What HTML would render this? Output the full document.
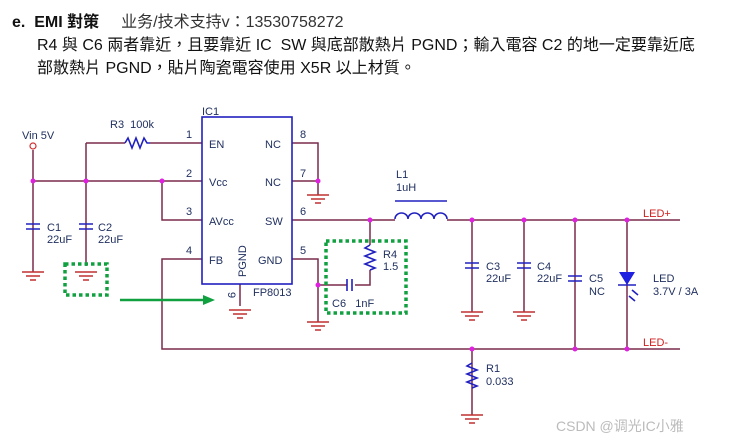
<!DOCTYPE html><html><head><style>
body{margin:0;background:#fff;width:740px;height:445px;overflow:hidden;font-family:"Liberation Sans","Noto Sans CJK TC",sans-serif}
.t{position:absolute;font-size:16px;color:#111;white-space:nowrap}
</style></head><body>
<div class="t" style="left:12px;top:8px"><b>e.&nbsp; EMI 對策</b><span style="margin-left:22px;color:#333">业务/技术支持v：13530758272</span></div>
<div class="t" style="left:37px;top:31px">R4 與 C6 兩者靠近，且要靠近 IC&nbsp; SW 與底部散熱片 PGND；輸入電容 C2 的地一定要靠近底</div>
<div class="t" style="left:37px;top:54px">部散熱片 PGND，貼片陶瓷電容使用 X5R 以上材質。</div>
<svg width="740" height="445" style="position:absolute;left:0;top:0" font-family="Liberation Sans,sans-serif" font-size="11">
<defs><g id="gnd"><path d="M-11 0H11M-7 4H7M-3 8H3" stroke="#c03030" stroke-width="1.5"/></g></defs>
<g stroke="#7a2a4a" stroke-width="1.5" fill="none">
<path d="M33 150V272M33 181H202M86 143H125M150 143H202M86 143V266M162 181V220H202M202 259H162V349H680"/>
<path d="M292 143H318V195M292 181H318M292 220H395M447 220H680M292 259H318V322M318 285H347M355 285H370V270M370 220V245"/>
<path d="M240 284V306M472 220V312M524 220V312M575 220V349M627 220V349M472 349V415"/>
</g>
<g stroke="#2020c0" stroke-width="1.6" fill="none">
<rect x="202" y="117" width="90" height="167"/>
<path d="M125 143l3-5 4 10 4-10 4 10 4-10 3 5 3 0"/>
<path d="M26 224H40M26 229H40M79 224H93M79 229H93M465 263H479M465 268H479M517 263H531M517 268H531M568 276H582M568 281H582"/>
<path d="M347 279V291M352 279V291"/>
<path d="M370 245l-5 3 10 4-10 4 10 4-10 4 10 4-5 2"/>
<path d="M472 363l-5 3 10 4-10 4 10 4-10 4 10 4-5 2"/>
<path d="M395 219a6.5 6 0 0 1 13 0a6.5 6 0 0 1 13 0a6.5 6 0 0 1 13 0a6.5 6 0 0 1 13 0M395 201H447"/>
<path d="M618 285H636M632 290l6 5M629 296l6 5"/>
</g>
<path d="M619 272H635L627 285Z" fill="#2020e0"/>
<circle cx="33" cy="146" r="3" fill="#fff" stroke="#d03030" stroke-width="1.2"/>
<g fill="#e020e0"><circle cx="33" cy="181" r="2.5"/><circle cx="86" cy="181" r="2.5"/><circle cx="162" cy="181" r="2.5"/><circle cx="318" cy="181" r="2.5"/><circle cx="318" cy="285" r="2.5"/><circle cx="370" cy="220" r="2.5"/><circle cx="472" cy="220" r="2.5"/><circle cx="524" cy="220" r="2.5"/><circle cx="575" cy="220" r="2.5"/><circle cx="627" cy="220" r="2.5"/><circle cx="472" cy="349" r="2.5"/><circle cx="575" cy="349" r="2.5"/><circle cx="627" cy="349" r="2.5"/></g>
<g transform="translate(33,272)"><use href="#gnd"/></g><g transform="translate(86,272)"><use href="#gnd"/></g>
<g transform="translate(318,195)"><use href="#gnd"/></g><g transform="translate(240,310)"><use href="#gnd"/></g>
<g transform="translate(318,322)"><use href="#gnd"/></g><g transform="translate(472,312)"><use href="#gnd"/></g>
<g transform="translate(524,312)"><use href="#gnd"/></g><g transform="translate(472,415)"><use href="#gnd"/></g>
<g fill="none" stroke="#10a040" stroke-width="3.5" stroke-dasharray="3.5 3"><rect x="65" y="264" width="42" height="31"/><rect x="326" y="241" width="80" height="72"/></g>
<path d="M120 300H205" stroke="#10a040" stroke-width="2.5"/><path d="M203 295L215 300L203 305Z" fill="#10a040"/>
<g fill="#203060">
<text x="22" y="139">Vin 5V</text><text x="110" y="128">R3&#160; 100k</text><text x="202" y="115">IC1</text>
<text x="186" y="138">1</text><text x="186" y="177">2</text><text x="186" y="215">3</text><text x="186" y="254">4</text>
<text x="300" y="138">8</text><text x="300" y="177">7</text><text x="300" y="215">6</text><text x="300" y="254">5</text>
<text x="209" y="148">EN</text><text x="209" y="186">Vcc</text><text x="209" y="225">AVcc</text><text x="209" y="264">FB</text>
<text x="265" y="148">NC</text><text x="265" y="186">NC</text><text x="265" y="225">SW</text><text x="258" y="264">GND</text>
<text transform="translate(246,277) rotate(-90)">PGND</text><text transform="translate(228,292) rotate(90)">9</text>
<text x="253" y="296">FP8013</text>
<text x="47" y="231">C1</text><text x="47" y="243">22uF</text><text x="98" y="231">C2</text><text x="98" y="243">22uF</text>
<text x="396" y="178">L1</text><text x="396" y="191">1uH</text>
<text x="383" y="258">R4</text><text x="383" y="270">1.5</text><text x="332" y="307">C6&#160;&#160; 1nF</text>
<text x="486" y="270">C3</text><text x="486" y="282">22uF</text><text x="537" y="270">C4</text><text x="537" y="282">22uF</text>
<text x="589" y="282">C5</text><text x="589" y="295">NC</text><text x="653" y="282">LED</text><text x="653" y="295">3.7V / 3A</text>
<text x="486" y="372">R1</text><text x="486" y="385">0.033</text>
</g>
<g fill="#d02020"><text x="643" y="217">LED+</text><text x="643" y="346">LED-</text></g>
<text x="556" y="431" font-size="14" fill="#bbb" font-family="Liberation Sans,Noto Sans CJK SC,sans-serif">CSDN @调光IC小雅</text>
</svg>
</body></html>
